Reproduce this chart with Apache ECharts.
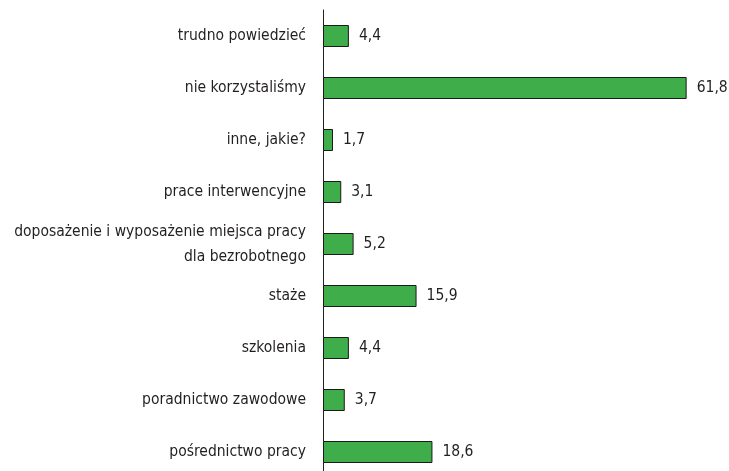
<!DOCTYPE html>
<html>
<head>
<meta charset="utf-8">
<script src="https://cdn.jsdelivr.net/npm/echarts@6/dist/echarts.min.js"></script>
<style>
  html, body { margin: 0; padding: 0; background: #fff; overflow: hidden; }
  #chart { width: 729px; height: 480px; }
</style>
</head>
<body>
<div id="chart"></div>
<script>
// kategorie od dołu do góry
var categories = [
  'pośrednictwo pracy',
  'poradnictwo zawodowe',
  'szkolenia',
  'staże',
  'doposażenie i wyposażenie miejsca pracy\ndla bezrobotnego',
  'prace interwencyjne',
  'inne, jakie?',
  'nie korzystaliśmy',
  'trudno powiedzieć'
];
var values = [18.6, 3.7, 4.4, 15.9, 5.2, 3.1, 1.7, 61.8, 4.4];

var font = '"Liberation Sans Narrow", "DejaVu Sans Condensed", "Roboto", sans-serif';

var chart = echarts.init(document.getElementById('chart'));
chart.setOption({
  animation: false,
  grid: { left: 323, top: 10, width: 406, height: 468 },
  xAxis: {
    type: 'value',
    min: 0,
    max: 69,
    show: false
  },
  yAxis: {
    type: 'category',
    data: categories,
    axisLine: { show: true, lineStyle: { color: '#222', width: 1 } },
    axisTick: { show: false },
    axisLabel: {
      color: '#231f20',
      fontFamily: font,
      fontSize: 15.5,
      lineHeight: 25,
      margin: 17,
      align: 'right'
    }
  },
  series: [{
    type: 'bar',
    data: values,
    barWidth: 22,
    itemStyle: { color: '#3fae4a', borderColor: '#1a1a1a', borderWidth: 1 },
    label: {
      show: true,
      position: 'right',
      distance: 10,
      color: '#231f20',
      fontFamily: font,
      fontSize: 15.5,
      formatter: function (p) { return String(p.value).replace('.', ','); }
    }
  }]
});
</script>
</body>
</html>
